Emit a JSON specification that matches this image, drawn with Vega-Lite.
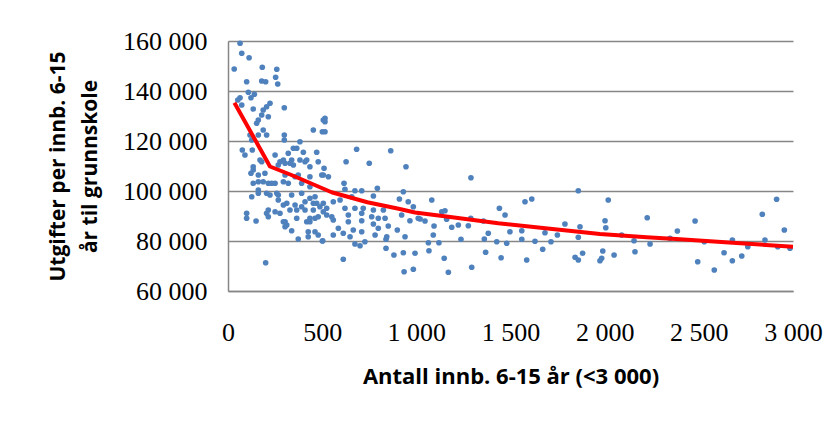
{
  "$schema": "https://vega.github.io/schema/vega-lite/v6.json",
  "width": 565,
  "height": 250,
  "autosize": {"type": "none"},
  "padding": {"left": 228, "top": 41, "right": 46, "bottom": 130},
  "background": "white",
  "config": {"view": {"stroke": null}},
  "datasets": {
    "pts": [
      {"x":64,"y":159100},{"x":73,"y":155100},{"x":112,"y":153300},{"x":33,"y":148800},{"x":182,"y":149500},{"x":259,"y":148700},{"x":253,"y":145500},{"x":264,"y":142800},{"x":99,"y":143700},{"x":179,"y":144000},{"x":200,"y":143700},{"x":108,"y":139500},{"x":140,"y":138700},{"x":64,"y":137300},{"x":122,"y":137300},{"x":52,"y":136400},{"x":73,"y":134400},{"x":223,"y":135100},{"x":205,"y":133700},{"x":187,"y":132400},{"x":134,"y":132800},{"x":299,"y":133300},{"x":179,"y":130400},{"x":214,"y":129700},{"x":161,"y":128400},{"x":152,"y":127100},{"x":187,"y":124400},{"x":205,"y":122400},{"x":161,"y":122400},{"x":117,"y":122400},{"x":126,"y":120400},{"x":299,"y":122400},{"x":299,"y":120400},{"x":453,"y":124400},{"x":501,"y":123700},{"x":506,"y":128400},{"x":382,"y":119700},{"x":365,"y":117100},{"x":76,"y":116400},{"x":90,"y":114400},{"x":129,"y":116400},{"x":250,"y":114400},{"x":320,"y":115100},{"x":347,"y":117100},{"x":400,"y":115500},{"x":471,"y":115500},{"x":418,"y":112400},{"x":338,"y":112400},{"x":276,"y":111700},{"x":170,"y":112400},{"x":479,"y":111700},
      {"x":179,"y":111700},{"x":134,"y":108400},{"x":122,"y":107100},{"x":161,"y":106400},{"x":196,"y":107100},{"x":267,"y":110400},{"x":303,"y":111100},{"x":347,"y":110400},{"x":409,"y":111700},{"x":435,"y":109700},{"x":498,"y":106400},{"x":435,"y":105700},{"x":373,"y":106400},{"x":303,"y":106400},{"x":161,"y":103700},{"x":214,"y":103100},{"x":250,"y":103100},{"x":294,"y":103700},{"x":320,"y":103100},{"x":391,"y":103100},{"x":435,"y":101700},{"x":161,"y":100400},{"x":126,"y":97700},{"x":205,"y":99100},{"x":267,"y":98400},{"x":338,"y":98400},{"x":391,"y":99100},{"x":267,"y":96400},{"x":462,"y":97700},{"x":409,"y":95700},{"x":453,"y":95100},{"x":294,"y":94400},{"x":356,"y":94400},{"x":391,"y":93700},{"x":506,"y":95100},{"x":453,"y":92400},{"x":409,"y":92400},{"x":214,"y":92400},{"x":205,"y":91100},{"x":250,"y":91700},{"x":276,"y":91100},{"x":329,"y":92400},{"x":365,"y":92400},{"x":99,"y":91100},{"x":99,"y":89100},{"x":149,"y":88000},{"x":214,"y":89700},{"x":365,"y":89100},{"x":435,"y":89100},{"x":479,"y":89700},{"x":435,"y":87700},{"x":303,"y":87700},{"x":303,"y":85700},{"x":312,"y":86400},{"x":338,"y":84100},{"x":426,"y":83700},{"x":462,"y":83700},{"x":479,"y":82400},{"x":373,"y":80800},{"x":426,"y":81700},{"x":501,"y":80000},{"x":200,"y":71300},
      {"x":187,"y":103700},{"x":232,"y":103100},{"x":356,"y":105700},{"x":294,"y":112400},{"x":329,"y":111100},{"x":382,"y":112400},{"x":161,"y":99100},{"x":223,"y":98400},{"x":259,"y":99100},{"x":435,"y":97100},{"x":471,"y":95100},{"x":312,"y":95100},{"x":294,"y":87700},{"x":418,"y":87700},{"x":462,"y":89100},{"x":506,"y":91700},{"x":134,"y":109700},{"x":134,"y":103100},
      {"x":515,"y":129100},{"x":515,"y":127700},{"x":515,"y":123700},{"x":683,"y":116700},{"x":864,"y":116100},{"x":627,"y":111700},{"x":750,"y":111100},{"x":945,"y":109700},{"x":510,"y":109100},{"x":506,"y":106400},{"x":533,"y":105700},{"x":616,"y":103100},{"x":621,"y":100700},{"x":674,"y":100100},{"x":710,"y":100100},{"x":793,"y":101100},{"x":931,"y":99700},{"x":559,"y":95700},{"x":595,"y":96400},{"x":657,"y":97700},{"x":772,"y":98000},{"x":910,"y":96800},{"x":957,"y":95700},{"x":984,"y":93700},{"x":524,"y":93100},{"x":621,"y":93100},{"x":674,"y":93100},{"x":718,"y":93100},{"x":772,"y":92400},{"x":825,"y":92400},{"x":488,"y":93700},{"x":524,"y":90400},{"x":551,"y":89700},{"x":639,"y":90400},{"x":710,"y":91100},{"x":763,"y":89700},{"x":798,"y":89100},{"x":834,"y":89100},{"x":922,"y":90400},{"x":966,"y":88100},{"x":1010,"y":89100},{"x":559,"y":88400},{"x":639,"y":87700},{"x":710,"y":88100},{"x":772,"y":86800},{"x":851,"y":86000},{"x":586,"y":85100},{"x":665,"y":84400},{"x":710,"y":83700},{"x":798,"y":85100},{"x":899,"y":84400},{"x":559,"y":82400},{"x":612,"y":83100},{"x":648,"y":81700},{"x":781,"y":82400},{"x":843,"y":81700},{"x":503,"y":80100},{"x":727,"y":79700},{"x":674,"y":78800},{"x":701,"y":78100},{"x":839,"y":80700},{"x":940,"y":81700},{"x":839,"y":77100},{"x":881,"y":74400},{"x":931,"y":75300},{"x":993,"y":75100},{"x":612,"y":72700},{"x":935,"y":67700},{"x":984,"y":68700},
      {"x":1290,"y":105300},{"x":1082,"y":96400},{"x":1577,"y":95700},{"x":1613,"y":96800},{"x":1135,"y":91700},{"x":1152,"y":92100},{"x":1441,"y":93100},{"x":1471,"y":90400},{"x":1020,"y":88800},{"x":1046,"y":88000},{"x":1161,"y":88700},{"x":1094,"y":86000},{"x":1188,"y":85500},{"x":1223,"y":86400},{"x":1276,"y":86100},{"x":1356,"y":88000},{"x":1382,"y":83100},{"x":1497,"y":83700},{"x":1560,"y":84100},{"x":1683,"y":83300},{"x":1090,"y":82400},{"x":1237,"y":80700},{"x":1361,"y":80800},{"x":1064,"y":79300},{"x":1120,"y":79300},{"x":1427,"y":79700},{"x":1480,"y":79100},{"x":1560,"y":80700},{"x":1630,"y":79900},{"x":1715,"y":79700},{"x":1671,"y":76700},{"x":1067,"y":76100},{"x":1368,"y":75500},{"x":1148,"y":73100},{"x":1450,"y":73300},{"x":1586,"y":72400},{"x":1294,"y":69500},{"x":1170,"y":67500},{"x":1289,"y":89100},
      {"x":1860,"y":100100},{"x":2019,"y":96400},{"x":1789,"y":86800},{"x":1869,"y":85700},{"x":2002,"y":88100},{"x":2006,"y":85300},{"x":2226,"y":89300},{"x":2386,"y":84000},{"x":1749,"y":82400},{"x":1860,"y":81500},{"x":2090,"y":82400},{"x":2156,"y":80100},{"x":2241,"y":78800},{"x":2347,"y":81100},{"x":1883,"y":75100},{"x":1843,"y":73500},{"x":1860,"y":72400},{"x":1990,"y":76000},{"x":1984,"y":73100},{"x":1975,"y":72100},{"x":2050,"y":74400},{"x":2161,"y":75700},
      {"x":2480,"y":88000},{"x":2837,"y":90700},{"x":2913,"y":96700},{"x":2954,"y":84400},{"x":2529,"y":79700},{"x":2678,"y":80400},{"x":2760,"y":77700},{"x":2851,"y":80400},{"x":2919,"y":77700},{"x":2984,"y":77100},{"x":2494,"y":71700},{"x":2582,"y":68400},{"x":2634,"y":75300},{"x":2678,"y":72100},{"x":2728,"y":74000}
    ],
    "trend": [
      {"x":34,"y":135300},{"x":223,"y":109800},{"x":340,"y":106300},{"x":550,"y":99500},{"x":740,"y":95500},{"x":900,"y":93000},{"x":993,"y":91400},{"x":1170,"y":89700},{"x":1435,"y":87100},{"x":1710,"y":84900},{"x":1975,"y":82800},{"x":2223,"y":81500},{"x":2400,"y":80700},{"x":2700,"y":79200},{"x":3000,"y":77700}
    ]
  },
  "layer": [
    {
      "data": {"name": "pts"},
      "mark": {"type": "circle", "size": 32, "color": "#4f81bd", "opacity": 1},
      "encoding": {
        "x": {"field": "x", "type": "quantitative"},
        "y": {"field": "y", "type": "quantitative"}
      }
    },
    {
      "data": {"name": "trend"},
      "mark": {"type": "line", "color": "#ff0000", "strokeWidth": 4, "interpolate": "linear", "strokeJoin": "round"},
      "encoding": {
        "x": {"field": "x", "type": "quantitative",
          "scale": {"domain": [0, 3000], "nice": false},
          "axis": {
            "values": [0, 500, 1000, 1500, 2000, 2500, 3000],
            "labelExpr": "replace(format(datum.value, ','), ',', ' ')",
            "labelFlush": false,
            "grid": false, "ticks": false,
            "domainColor": "#868686", "domainWidth": 1.5,
            "labelFont": "Liberation Serif", "labelFontSize": 26, "labelColor": "#000000",
            "labelPadding": 28,
            "title": "Antall innb. 6-15 år (<3 000)",
            "titleFont": "Open Sans", "titleFontSize": 22, "titleFontWeight": "bold", "titleColor": "#000000",
            "titlePadding": 21
          }
        },
        "y": {"field": "y", "type": "quantitative",
          "scale": {"domain": [60000, 160000], "nice": false, "zero": false},
          "axis": {
            "values": [60000, 80000, 100000, 120000, 140000, 160000],
            "labelExpr": "replace(format(datum.value, ','), ',', ' ')",
            "labelFlush": false,
            "grid": true, "gridColor": "#868686", "gridWidth": 1.3,
            "ticks": false,
            "domainColor": "#868686", "domainWidth": 1.5,
            "labelFont": "Liberation Serif", "labelFontSize": 26, "labelColor": "#000000",
            "labelPadding": 21,
            "title": ["Utgifter per innb. 6-15", "år til grunnskole"],
            "titleFont": "Open Sans", "titleFontSize": 21, "titleFontWeight": "bold", "titleColor": "#000000",
            "titleLineHeight": 32,
            "titlePadding": 22
          }
        }
      }
    }
  ]
}
